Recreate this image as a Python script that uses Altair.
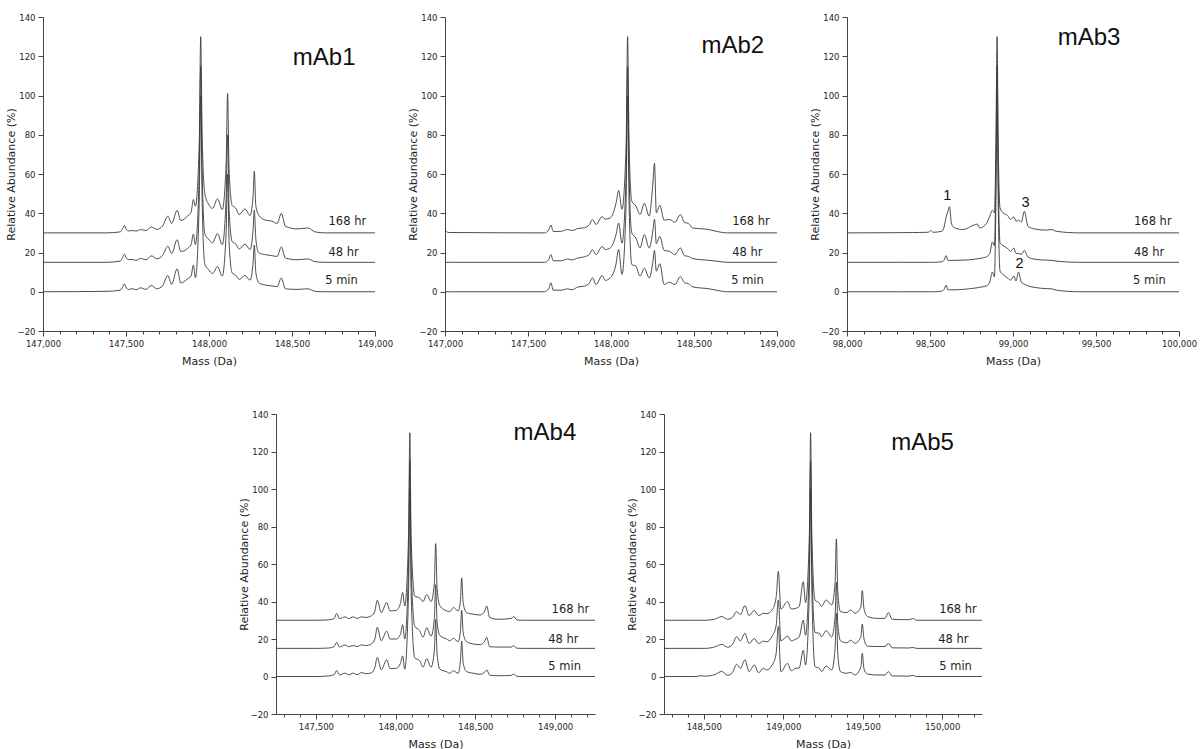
import altair as alt
import pandas as pd

TRACES = ["5 min", "48 hr", "168 hr"]
OFFSETS = [0, 15, 30]

# rows: (mass, 5 min, 48 hr, 168 hr) relative abundance (before vertical offset)
MAB1 = [
    (147000, 0, 0, 0), (147380, 0.2, 0, 0), (147465, 0.8, 0.6, 0.5), (147480, 2.5, 2.5, 2.3),
    (147490, 4.0, 4.1, 3.8), (147502, 2.0, 2.2, 1.8), (147515, 1.1, 1.4, 1.0), (147537, 1.6, 1.5, 1.2),
    (147560, 1.0, 1.0, 0.9), (147588, 2.0, 2.0, 1.7), (147620, 1.2, 1.3, 1.2), (147653, 3.2, 3.3, 3.0),
    (147685, 1.5, 1.8, 1.8), (147720, 3.0, 3.5, 3.5), (147752, 8.3, 8.2, 8.5), (147775, 3.8, 4.5, 4.8),
    (147808, 11.7, 11.5, 11.5), (147830, 4.5, 5.5, 6.3), (147870, 6.5, 7.0, 8.5), (147892, 8.0, 9.0, 10.5),
    (147906, 13.6, 14.4, 17.0), (147918, 7.1, 9.0, 13.6), (147941, 45, 45, 45), (147950, 100, 100, 100),
    (147959, 45, 45, 48), (147975, 14.0, 14.5, 20.0), (147995, 11.5, 12.0, 15.0), (148022, 9.3, 10.0, 12.5),
    (148051, 12.8, 14.6, 17.3), (148080, 8.0, 9.0, 11.9), (148103, 30, 32, 35), (148112, 60, 65, 71),
    (148121, 25, 27, 32), (148140, 9.5, 10.5, 14.0), (148160, 8.5, 9.5, 12.7), (148182, 6.3, 6.8, 9.3),
    (148217, 8.3, 9.3, 12.2), (148247, 5.9, 6.5, 8.8), (148265, 14, 16, 18), (148273, 23.8, 26.6, 31.4),
    (148282, 10, 12, 14), (148300, 4.6, 4.8, 9.0), (148340, 3.4, 3.9, 6.5), (148378, 3.0, 3.4, 6.0),
    (148410, 2.6, 3.0, 4.8), (148436, 7.0, 7.8, 9.9), (148460, 1.5, 2.2, 3.4), (148530, 1.2, 1.3, 2.0),
    (148595, 1.5, 1.7, 2.5), (148640, 0.2, 0.3, 0.5), (148700, 0, 0, 0), (149000, 0, 0, 0),
]

MAB2 = [
    (147000, 0, 0, 1.5), (147020, 0, 0, 0.2), (147600, 0, 0, 0), (147625, 1.5, 1.5, 1.5),
    (147638, 4.6, 3.9, 4.0), (147652, 0.8, 0.8, 0.7), (147700, 0.8, 0.8, 0.8), (147738, 1.5, 1.7, 1.7),
    (147765, 1.0, 1.2, 1.2), (147800, 2.4, 2.2, 2.2), (147840, 2.9, 2.8, 2.6), (147870, 4.5, 4.0, 4.2),
    (147888, 7.1, 6.5, 6.8), (147910, 3.7, 3.9, 4.3), (147947, 8.3, 8.1, 8.3), (147965, 5.8, 6.5, 7.0),
    (147995, 7.0, 7.3, 7.6), (148030, 14, 14, 15), (148046, 21.6, 20.0, 21.6), (148066, 8.8, 9.8, 12.0),
    (148091, 45, 45, 45), (148100, 100, 100, 100), (148109, 45, 45, 45), (148125, 13.9, 15.0, 16.2),
    (148150, 13.0, 12.4, 13.7), (148175, 8.0, 7.3, 9.4), (148201, 12.0, 14.1, 15.0), (148230, 7.0, 7.3, 8.5),
    (148252, 15, 16, 25), (148262, 21, 22, 35.4), (148273, 10.5, 9.5, 10.2), (148294, 14.3, 13.2, 14.1),
    (148320, 3.7, 6.1, 6.5), (148352, 4.9, 5.6, 6.8), (148385, 3.7, 4.0, 5.4), (148418, 7.8, 7.3, 9.3),
    (148442, 4.6, 3.4, 5.4), (148467, 4.1, 3.0, 4.8), (148492, 2.5, 1.9, 2.5), (148590, 1.5, 1.0, 1.7),
    (148634, 0.8, 0.6, 0.8), (148700, 0, 0, 0), (149000, 0, 0, 0),
]

MAB3 = [
    (98000, 0, 0, 0), (98300, 0, 0, 0.1), (98490, 0, 0, 0.3), (98503, 0, 0, 1.2), (98520, 0, 0, 0.3),
    (98570, 0.3, 0.3, 0.8), (98585, 1.2, 1.2, 3.0), (98597, 3.4, 3.4, 8.0), (98608, 1.0, 1.0, 11.0),
    (98617, 1.0, 1.0, 13.3), (98630, 1.0, 1.0, 4.5), (98650, 1.0, 1.0, 2.5), (98700, 1.2, 1.1, 1.7),
    (98764, 1.8, 1.5, 4.0), (98784, 2.0, 1.8, 4.5), (98800, 2.3, 2.0, 2.5), (98840, 3.0, 2.8, 4.8),
    (98860, 5.0, 4.5, 8.5), (98876, 10.0, 10.4, 11.5), (98888, 7.6, 8.5, 10.2), (98897, 45, 45, 45),
    (98904, 100, 100, 100), (98911, 45, 45, 45), (98922, 10.5, 9.8, 12.7), (98940, 8.8, 8.5, 10.2),
    (98968, 7.0, 7.0, 8.8), (98985, 5.9, 5.6, 6.8), (99005, 8.0, 7.3, 8.2), (99018, 5.5, 4.5, 5.9),
    (99033, 10.0, 4.5, 6.5), (99050, 4.9, 4.0, 5.5), (99069, 3.8, 6.1, 11.0), (99090, 3.0, 2.7, 3.4),
    (99130, 2.2, 1.6, 2.0), (99200, 1.6, 1.1, 1.4), (99234, 1.5, 1.0, 1.7), (99260, 0.8, 0.6, 0.8),
    (99400, 0, 0, 0), (100000, 0, 0, 0),
]

MAB4 = [
    (147250, 0, 0, 0), (147500, 0, 0, 0), (147580, 0.3, 0.2, 0.2), (147615, 1.0, 1.0, 1.0),
    (147630, 3.2, 3.2, 3.6), (147648, 0.8, 0.8, 0.8), (147683, 1.8, 1.8, 1.8), (147706, 0.9, 0.9, 0.9),
    (147734, 1.8, 1.5, 1.8), (147758, 1.0, 1.0, 1.0), (147787, 2.1, 1.8, 1.8), (147812, 1.5, 1.5, 1.5),
    (147850, 2.0, 2.5, 2.5), (147870, 5, 5, 5), (147885, 10.2, 11.2, 10.7), (147910, 3.6, 4.1, 4.1),
    (147944, 8.9, 9.2, 9.4), (147965, 4.2, 5.0, 5.0), (148005, 4.4, 5.0, 5.3), (148030, 7, 7.5, 9),
    (148044, 11.0, 12.6, 14.8), (148057, 3.9, 5.0, 7.6), (148081, 45, 45, 45), (148089, 100, 100, 100),
    (148097, 45, 45, 45), (148120, 10.0, 11.8, 12.8), (148150, 8.5, 9.5, 12.0), (148172, 5.0, 6.0, 10.0),
    (148195, 9.5, 11.0, 13.7), (148222, 5.0, 6.5, 10.0), (148243, 14, 16, 20), (148251, 30.4, 34, 40.9),
    (148260, 12, 14, 17), (148278, 3.9, 6.8, 7.6), (148320, 2.5, 5.0, 5.0), (148340, 1.7, 4.1, 4.6),
    (148362, 3.1, 5.3, 6.8), (148392, 1.7, 3.6, 5.0), (148406, 8, 9, 10), (148414, 18.8, 20.3, 22.6),
    (148424, 7, 8, 9), (148445, 2.6, 3.6, 4.0), (148490, 1.7, 2.3, 3.2), (148530, 1.2, 2.0, 2.8),
    (148560, 2.5, 4, 5), (148571, 3.5, 5.9, 7.6), (148590, 0.7, 0.9, 1.4), (148650, 0.4, 0.7, 0.5),
    (148725, 0.6, 0.7, 1.0), (148740, 1.3, 1.4, 2.0), (148760, 0.1, 0.1, 0.2), (148800, 0, 0, 0),
    (149250, 0, 0, 0),
]

MAB5 = [
    (148250, 0, 0, 0), (148450, 0, 0, 0), (148480, 0.4, 0, 0), (148510, 0.2, 0, 0),
    (148570, 1.0, 0.8, 0.6), (148613, 2.7, 2.1, 2.0), (148650, 0.6, 0.6, 0.5), (148680, 2.0, 2.0, 1.5),
    (148707, 6.5, 6.2, 4.6), (148730, 4.4, 4.0, 3.0), (148759, 8.9, 8.0, 7.8), (148785, 2.6, 2.6, 2.5),
    (148818, 6.1, 5.3, 5.2), (148845, 2.0, 2.5, 2.5), (148875, 4.4, 3.9, 3.7), (148895, 3.5, 3.5, 3.5),
    (148930, 6.1, 6.5, 5.5), (148955, 12, 12, 12), (148969, 26.6, 25.8, 26.0), (148985, 2.6, 4.0, 6.0),
    (149027, 7.0, 6.6, 10.0), (149050, 3.1, 4.0, 6.0), (149080, 4.4, 5.0, 6.4), (149100, 4.5, 6.0, 7.3),
    (149126, 14, 15, 20.6), (149140, 6.1, 7.0, 9.4), (149164, 45, 45, 45), (149172, 100, 100, 100),
    (149180, 45, 45, 45), (149200, 5.2, 8.5, 10.8), (149228, 4.4, 8.0, 9.0), (149240, 2.6, 6.2, 7.3),
    (149270, 5.6, 9.4, 10.8), (149305, 3.5, 6.2, 8.2), (149326, 15, 17, 20), (149334, 33.7, 35.2, 43.4),
    (149343, 12, 13, 15), (149360, 2.6, 4.1, 4.6), (149400, 1.7, 3.0, 4.1), (149425, 2.2, 4.4, 5.5),
    (149450, 0.8, 2.7, 3.7), (149488, 5, 6, 7), (149497, 12.4, 13.0, 15.8), (149508, 4, 5, 6),
    (149530, 1.3, 1.2, 2.0), (149590, 0.8, 1.0, 1.0), (149640, 0.8, 1.0, 1.0), (149661, 2.6, 2.7, 4.1),
    (149685, 0.3, 0.3, 0.5), (149790, 0.2, 0.2, 0.3), (149814, 0.6, 0.5, 0.9), (149840, 0, 0, 0),
    (150250, 0, 0, 0),
]

Y_TICKS = [-20, 0, 20, 40, 60, 80, 100, 120, 140]

PANELS = [
    dict(name="mAb1", rows=MAB1, domain=[147000, 149000],
         title_xy=(148694, 115.7), label_x=[148700, 148720, 148720], w=332, h=314),
    dict(name="mAb2", rows=MAB2, domain=[147000, 149000],
         title_xy=(148734, 121.6), label_x=[148724, 148730, 148730], w=332, h=314),
    dict(name="mAb3", rows=MAB3, domain=[98000, 100000],
         title_xy=(99458, 125.9), label_x=[99723, 99729, 99729], w=332, h=314,
         notes=[("1", 98604, 46.9), ("2", 99040, 12.1), ("3", 99076, 43.2)]),
    dict(name="mAb4", rows=MAB4, domain=[147250, 149250],
         title_xy=(148936, 126.0), label_x=[148957, 148957, 148978], w=319, h=300),
    dict(name="mAb5", rows=MAB5, domain=[148250, 150250],
         title_xy=(149876, 120.8), label_x=[149981, 149975, 149981], w=318, h=300),
]
LABEL_Y = [3.7, 18.0, 34.1]

LINE_COLOR = "#3a3a3a"
AX_COLOR = "#444444"
TXT_COLOR = "#1e1e1e"


def make_panel(p):
    recs = []
    for r in p["rows"]:
        for i, t in enumerate(TRACES):
            recs.append({"mass": r[0], "value": r[1 + i] + OFFSETS[i], "trace": t})
    df = pd.DataFrame(recs)
    lo, hi = p["domain"]
    tick_vals = list(range(lo - lo % 100 + (100 if lo % 100 else 0), hi + 1, 100))
    xs = alt.Scale(domain=p["domain"], nice=False, zero=False)
    ys = alt.Scale(domain=[-20, 140], nice=False, zero=False)
    x_axis = alt.Axis(values=tick_vals, title="Mass (Da)", grid=False,
                      tickSize={"condition": {"test": "datum.value % 500 === 0", "value": 5}, "value": 3},
                      labelExpr="datum.value % 500 === 0 ? format(datum.value, ',') : ''",
                      labelPadding=3, labelFont="DejaVu Sans", labelFontSize=8.5, labelColor=TXT_COLOR,
                      titleFont="DejaVu Sans", titleFontSize=11, titleFontWeight="normal",
                      titleColor=TXT_COLOR, titlePadding=8, domainColor=AX_COLOR, tickColor=AX_COLOR,
                      labelFlush=False, labelOverlap=False)
    y_axis = alt.Axis(values=Y_TICKS, title="Relative Abundance (%)", grid=False, tickSize=5,
                      labelPadding=3, labelFont="DejaVu Sans", labelFontSize=8.5, labelColor=TXT_COLOR,
                      titleFont="DejaVu Sans", titleFontSize=11, titleFontWeight="normal",
                      titleColor=TXT_COLOR, titlePadding=1, domainColor=AX_COLOR, tickColor=AX_COLOR,
                      labelFlush=False, labelOverlap=False)
    X = lambda f: alt.X(f, type="quantitative", scale=xs, axis=x_axis)
    Y = lambda f: alt.Y(f, type="quantitative", scale=ys, axis=y_axis)

    lines = alt.Chart(df).mark_line(interpolate="monotone", color=LINE_COLOR, strokeWidth=0.9).encode(
        x=X("mass"), y=Y("value"), detail="trace:N",
    )
    lab_df = pd.DataFrame({"mass": p["label_x"], "value": LABEL_Y, "text": TRACES})
    labels = alt.Chart(lab_df).mark_text(align="left", baseline="alphabetic", font="DejaVu Sans",
                                         fontSize=11.5, color=TXT_COLOR).encode(
        x=X("mass"), y=Y("value"), text="text:N",
    )
    title_df = pd.DataFrame({"mass": [p["title_xy"][0]], "value": [p["title_xy"][1]], "text": [p["name"]]})
    title = alt.Chart(title_df).mark_text(align="center", baseline="alphabetic", font="Liberation Sans",
                                          fontSize=24, color="#111111").encode(
        x=X("mass"), y=Y("value"), text="text:N",
    )
    layers = [lines, labels, title]
    if "notes" in p:
        n_df = pd.DataFrame({"text": [n[0] for n in p["notes"]], "mass": [n[1] for n in p["notes"]],
                             "value": [n[2] for n in p["notes"]]})
        notes = alt.Chart(n_df).mark_text(align="center", baseline="alphabetic", font="Liberation Sans",
                                          fontSize=14.5, color="#111111").encode(
            x=X("mass"), y=Y("value"), text="text:N",
        )
        layers.append(notes)
    return alt.layer(*layers).properties(width=p["w"], height=p["h"])


panels = [make_panel(p) for p in PANELS]
spacer = alt.Chart(pd.DataFrame({"a": [0]})).mark_point(opacity=0, size=1).encode(
    x=alt.value(1), y=alt.value(1)).properties(width=164, height=10)

top = alt.hconcat(panels[0], panels[1], panels[2], spacing=70, bounds="flush")
bottom = alt.hconcat(spacer, panels[3], panels[4], spacing=69, bounds="flush")

chart = alt.vconcat(top, bottom, spacing=43).properties(
    padding={"left": 5, "top": 13, "right": 0, "bottom": 0},
    background="white",
).configure_view(strokeWidth=0)

chart.save("out.html", embed_options={"renderer": "svg", "actions": False})
